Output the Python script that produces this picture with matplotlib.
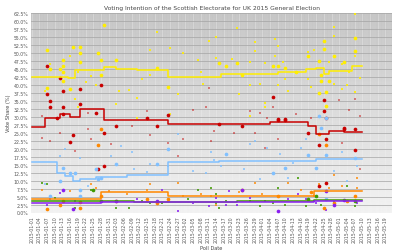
import numpy as np
import pandas as pd
import matplotlib
matplotlib.use('Agg')
import matplotlib.pyplot as plt
import matplotlib.dates as mdates
from matplotlib.ticker import MultipleLocator, FuncFormatter

start = pd.Timestamp('2015-01-01')

# rolling averages as step breakpoints (day offset, vote share)
snp_line_days = [0, 14, 17, 28, 33, 41, 53, 74, 96, 107, 111, 114, 116, 125, 129]
snp_line_vals = [42.3, 42.0, 44.6, 45.6, 44.9, 44.6, 42.3, 43.3, 44.1, 44.9, 45.4, 43.3, 44.4, 45.8, 45.8]
lab_line_days = [0, 5, 11, 15, 19, 28, 53, 93, 108, 111, 116, 122, 129]
lab_line_vals = [26.8, 29.7, 30.8, 29.8, 32.3, 28.9, 27.6, 28.2, 27.2, 24.5, 25.5, 25.2, 25.2]
con_line_days = [0, 10, 13, 16, 19, 25, 37, 53, 73, 111, 129]
con_line_vals = [15.8, 12.5, 11.5, 9.8, 10.4, 11.0, 11.9, 15.9, 16.1, 16.9, 16.9]
ld_line_days = [0, 27, 53, 110, 129]
ld_line_vals = [4.1, 6.4, 5.2, 6.8, 6.8]
grn_line_days = [0, 40, 80, 110, 129]
grn_line_vals = [3.6, 3.4, 3.7, 3.9, 3.9]
ukip_line_days = [0, 27, 75, 110, 129]
ukip_line_vals = [3.0, 3.3, 3.2, 3.5, 3.5]

# full Scottish polls (big markers)
snp_big = [(28, 58.8), (6, 51.0), (16, 51.9), (19, 51.9), (19, 49.9), (26, 49.9), (12, 47.8), (19, 47.0),
           (27, 47.8), (33, 47.8), (7, 44.9), (11, 44.9), (12, 45.9), (12, 44.1), (12, 41.2), (27, 43.0),
           (6, 38.9), (15, 38.6), (49, 45.2), (53, 39.4), (73, 46.8), (76, 46.0), (80, 46.8), (94, 46.0),
           (96, 46.0), (99, 45.4), (82, 43.0), (103, 44.1), (108, 48.9), (112, 47.5), (114, 53.8), (114, 51.2),
           (118, 48.9), (122, 47.3), (126, 54.6), (126, 50.7), (113, 43.0), (113, 41.2), (116, 41.2),
           (112, 37.3), (115, 37.6), (115, 33.4)]
lab_big = [(6, 45.9), (11, 42.0), (12, 38.0), (6, 37.1), (7, 35.0), (7, 32.9), (19, 38.6), (19, 34.1),
           (27, 39.9), (12, 32.9), (12, 30.8), (25, 31.3), (33, 27.1), (45, 29.7), (49, 27.1), (53, 30.6),
           (10, 29.7), (16, 24.2), (15, 22.1), (28, 25.0), (26, 13.5), (28, 14.5), (73, 27.6), (82, 27.1),
           (96, 28.9), (99, 28.9), (108, 25.0), (112, 21.0), (115, 22.9), (122, 26.3), (126, 26.1),
           (126, 19.6), (115, 9.3), (112, 8.3), (94, 36.3), (96, 29.2), (99, 29.2), (114, 35.3),
           (114, 31.8), (115, 29.7), (122, 26.6)]
con_big = [(12, 14.0), (15, 12.5), (17, 12.5), (33, 15.1), (27, 10.9), (26, 10.4), (49, 15.1), (53, 19.8),
           (11, 9.8), (19, 7.2), (19, 5.1), (7, 5.1), (25, 13.5), (76, 18.2), (99, 14.0), (94, 12.5),
           (108, 17.9), (115, 17.9), (126, 17.2), (111, 14.0), (113, 26.6), (112, 30.1), (115, 29.7), (115, 4.1)]
ld_big = [(11, 2.2), (6, 1.2), (12, 3.5), (19, 3.2), (19, 1.5), (27, 26.1), (26, 21.0), (27, 5.3),
          (33, 3.5), (45, 4.3), (49, 3.0), (53, 4.1), (96, 5.3), (109, 6.4), (112, 24.5), (115, 21.0),
          (114, 1.5), (118, 3.0), (126, 5.3), (123, 3.5), (82, 7.0)]
grn_big = [(24, 7.2), (108, 4.1), (126, 3.5), (111, 5.1)]
ukip_big = [(12, 7.2), (16, 1.2), (27, 3.5), (33, 3.5), (49, 3.5), (82, 7.2), (96, 0.4), (115, 6.7),
            (118, 2.2), (122, 3.8)]

# Scottish subsamples of UK polls (small markers)
snp_small = [(49, 56.6), (69, 53.8), (46, 51.0), (54, 51.5), (59, 49.9), (65, 47.8), (72, 48.3), (15, 49.1),
             (18, 43.9), (7, 46.4), (5, 38.1), (23, 42.8), (43, 41.8), (46, 43.1), (66, 44.1), (67, 40.2),
             (57, 37.1), (41, 36.0), (38, 38.3), (34, 38.1), (25, 40.0), (21, 40.9), (17, 35.5), (18, 32.9),
             (33, 33.9), (41, 29.7), (54, 30.8), (126, 62.2), (118, 58.0), (80, 57.8), (118, 55.4),
             (72, 54.9), (95, 54.3), (96, 52.2), (87, 53.3), (87, 50.7), (95, 48.9), (78, 48.1), (85, 47.0),
             (91, 46.8), (98, 47.0), (108, 50.3), (110, 50.9), (116, 47.0), (121, 46.5), (126, 49.1),
             (124, 44.1), (128, 42.1), (123, 39.9), (126, 37.6), (121, 38.6), (108, 41.8), (99, 41.8),
             (89, 40.2), (96, 39.9), (85, 39.9), (81, 37.1), (100, 38.1), (91, 34.2), (109, 39.2),
             (118, 40.2), (85, 30.2), (91, 32.9)]
lab_small = [(4, 30.1), (45, 31.8), (69, 38.9), (68, 33.1), (63, 32.0), (39, 27.1), (22, 31.3), (7, 22.4),
             (23, 22.9), (17, 19.3), (46, 24.2), (59, 22.9), (71, 25.5), (57, 17.7), (31, 21.4), (22, 26.1),
             (4, 23.2), (11, 25.0), (53, 21.9), (85, 31.8), (89, 31.3), (94, 33.1), (103, 31.0), (109, 29.7),
             (120, 35.2), (126, 35.5), (124, 32.0), (128, 30.1), (92, 29.7), (79, 25.0), (87, 25.0),
             (70, 22.4), (91, 20.3), (96, 22.9), (121, 21.9), (128, 13.5)]
con_small = [(11, 17.7), (19, 17.2), (39, 18.8), (31, 17.7), (46, 15.1), (45, 12.7), (63, 13.0), (68, 12.5),
             (57, 24.5), (71, 16.6), (5, 8.8), (22, 8.3), (40, 13.5), (53, 14.5), (35, 20.8), (13, 20.0),
             (70, 18.8), (85, 21.4), (87, 22.4), (92, 20.3), (97, 18.2), (102, 15.6), (105, 20.3),
             (121, 18.8), (127, 14.5), (74, 14.5), (83, 13.5), (89, 10.4), (100, 10.9), (118, 13.0),
             (123, 9.8), (107, 22.9)]
ld_small = [(4, 7.2), (15, 6.7), (25, 7.8), (30, 6.7), (37, 5.7), (45, 7.0), (59, 5.3), (66, 5.7), (72, 2.5),
            (23, 8.8), (57, 9.3), (46, 8.8), (70, 5.1), (81, 6.4), (87, 9.3), (90, 5.7), (100, 9.3),
            (105, 7.2), (110, 5.3), (118, 11.9), (121, 8.3), (127, 10.9), (112, 8.8), (116, 7.8), (127, 7.8)]
grn_small = [(4, 9.3), (6, 8.8), (9, 4.6), (23, 7.2), (33, 1.5), (43, 3.5), (51, 3.0), (61, 4.1), (65, 7.2),
             (72, 5.7), (17, 1.5), (38, 1.5), (46, 3.0), (72, 3.0), (73, 1.5), (76, 3.5), (85, 3.5), (89, 2.0),
             (94, 3.0), (99, 2.2), (107, 2.0), (113, 2.5), (118, 3.2), (126, 2.0), (96, 7.8), (70, 7.8),
             (123, 8.3), (104, 10.9)]
ukip_small = [(6, 2.5), (7, 4.1), (51, 7.2), (57, 0.4), (69, 2.0), (17, 3.5), (41, 4.1), (63, 3.0), (72, 4.6),
              (11, 6.0), (76, 2.2), (80, 2.5), (91, 3.5), (100, 4.1), (107, 4.1), (111, 3.0), (115, 0.9),
              (127, 3.0), (85, 4.6), (104, 5.7), (77, 6.7)]

# name, colour, alpha of subsample points
parties = [
    ('SNP', '#ffee00', 0.85, snp_big, snp_small, snp_line_days, snp_line_vals),
    ('Labour', '#c80000', 0.45, lab_big, lab_small, lab_line_days, lab_line_vals),
    ('Conservative', '#80c0ff', 0.75, con_big, con_small, con_line_days, con_line_vals),
    ('Lib Dem', '#ff8800', 0.75, ld_big, ld_small, ld_line_days, ld_line_vals),
    ('Green', '#3f9a00', 0.8, grn_big, grn_small, grn_line_days, grn_line_vals),
    ('UKIP', '#8a1ef0', 0.8, ukip_big, ukip_small, ukip_line_days, ukip_line_vals),
]


def to_dates(days):
    return start + pd.to_timedelta(np.asarray(days, dtype=float), unit='D')


fig = plt.figure(figsize=(4.0, 2.51), dpi=100)
ax = fig.add_axes([31 / 400, 1 - 213.5 / 251, 361 / 400, 199.5 / 251])

x0 = start - pd.Timedelta(days=0.3)
x1 = start + pd.Timedelta(days=140.6)

# grey gradient background, darker at the top
grad = np.linspace(0.77, 0.95, 256).reshape(-1, 1)
ax.imshow(grad, cmap='gray', vmin=0, vmax=1, aspect='auto', origin='upper',
          extent=[mdates.date2num(x0), mdates.date2num(x1), 0, 62.5], zorder=0)

for name, col, a, big, small, ld, lv in parties:
    d, v = zip(*small)
    ax.scatter(to_dates(d), v, s=1.8, marker='s', color=col, alpha=a, linewidths=0, zorder=2)
    d, v = zip(*big)
    ax.scatter(to_dates(d), v, s=7, marker='o', color=col, linewidths=0, zorder=3)
    ax.plot(to_dates(ld), lv, drawstyle='steps-post', color=col, lw=1.1, zorder=4)

ax.set_xlim(x0, x1)
ax.set_ylim(0, 62.5)
ax.yaxis.set_major_locator(MultipleLocator(2.5))
ax.yaxis.set_major_formatter(FuncFormatter(lambda y, p: '%.1f%%' % y))
ax.xaxis.set_major_locator(mdates.DayLocator(interval=3))
ax.xaxis.set_minor_locator(mdates.DayLocator())
ax.xaxis.set_major_formatter(mdates.DateFormatter('%Y-%m-%d'))

ax.grid(True, axis='y', which='major', color='#a4a4a4', lw=0.5)
ax.grid(True, axis='x', which='major', color='#f4f4f4', lw=0.4, alpha=0.6)
ax.grid(True, axis='x', which='minor', color='#f0f0f0', lw=0.3, alpha=0.3)
for gl in ax.get_xgridlines() + ax.get_ygridlines():
    gl.set_zorder(1)

for s in ax.spines.values():
    s.set_visible(False)
ax.tick_params(axis='both', which='both', length=0, labelsize=3.3, labelcolor='#555555', pad=2)
plt.setp(ax.get_xticklabels(), rotation=90)

ax.set_title('Voting Intention of the Scottish Electorate for UK 2015 General Election',
             fontsize=4.3, color='#444444', pad=3)
ax.set_xlabel('Poll Date', fontsize=3.6, color='#444444', labelpad=2)
ax.set_ylabel('Vote Share (%)', fontsize=3.6, color='#444444', labelpad=2)

fig.savefig('out.png', dpi=100)
